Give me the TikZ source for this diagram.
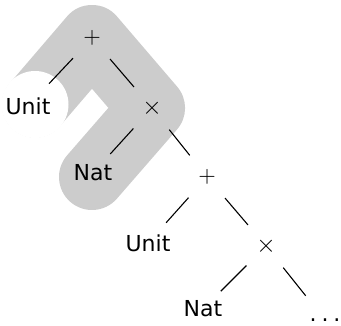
\documentclass[tikz,border=0pt]{standalone}
\usepackage{graphicx}
\usepackage[no-math]{fontspec}
\setmainfont{DejaVu Sans}
\newcommand{\opsym}[2][2.25]{\scalebox{#1}{$#2$}}
\begin{document}
\begin{tikzpicture}[x=1pt,y=-1pt,
  tn/.style={circle,inner sep=0pt,minimum size=55pt,font=\fontsize{22}{26}\selectfont},
  op/.style={circle,inner sep=0pt,minimum size=55pt},
  edge/.style={draw=black,line width=1.1pt},
  band/.style={draw=gray!40,line width=66pt,line cap=round,line join=round}]
\useasboundingbox (0,0) rectangle (341,325);
% highlight band
\draw[band] (35,104.5) -- (92,38) -- (152,108) -- (92,177);
\fill[white] (35,104.5) circle (33.5);
% nodes
\node[op] (plus1) at (92,38) {\opsym{+}};
\node[op] (times1) at (152,108) {\opsym[2.5]{\times}};
\node[tn,minimum size=61pt] (unit1) at (28,106) {Unit};
\node[tn,minimum size=51pt] (nat1) at (93,173) {Nat};
\node[op] (plus2) at (207,177) {\opsym{+}};
\node[tn,minimum size=54pt] (unit2) at (148,243) {Unit};
\node[op] (times2) at (266,246) {\opsym[2.5]{\times}};
\node[tn,minimum size=50pt] (nat2) at (203,309) {Nat};
\node[tn,rectangle,minimum size=0pt] (dots) at (325,320) {.\kern 5pt.\kern 5pt.};
% edges
\draw[edge] (plus1) -- (unit1);
\draw[edge] (plus1) -- (times1);
\draw[edge] (times1) -- (nat1);
\draw[edge] (times1) -- (plus2);
\draw[edge] (plus2) -- (unit2);
\draw[edge] (plus2) -- (times2);
\draw[edge] (times2) -- (nat2);
\draw[edge,shorten >=29pt] (times2) -- (dots);
\end{tikzpicture}
\end{document}
